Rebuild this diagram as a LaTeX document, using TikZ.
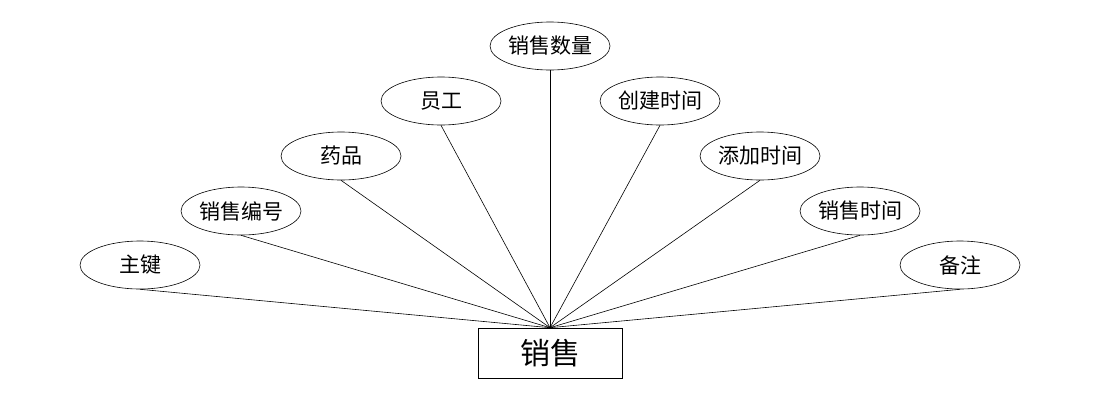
\documentclass[tikz,border=0pt]{standalone}
\usepackage{fontspec}
\newfontfamily\cjk{Noto Sans CJK SC}
\usetikzlibrary{shapes.geometric}

\begin{document}
\begin{tikzpicture}[x=1pt, y=-1pt, line width=0.6pt,
	attr/.style={draw, ellipse, minimum width=120pt, minimum height=48pt, inner sep=0pt, font=\cjk\fontsize{21}{24}\selectfont},
	entity/.style={draw, rectangle, minimum width=144pt, minimum height=50pt, inner sep=0pt, font=\cjk\fontsize{30}{34}\selectfont}]
	\useasboundingbox (0,0) rectangle (1100,408);
	% entity
	\node[entity] (sale) at (550,353) {销售};
	% attributes
	\node[attr] (a1) at (140,265) {主键};
	\node[attr] (a2) at (241,211) {销售编号};
	\node[attr] (a3) at (341,156) {药品};
	\node[attr] (a4) at (441,101) {员工};
	\node[attr] (a5) at (550,46) {销售数量};
	\node[attr] (a6) at (660,101) {创建时间};
	\node[attr] (a7) at (760,156) {添加时间};
	\node[attr] (a8) at (860,211) {销售时间};
	\node[attr] (a9) at (960,265) {备注};
	% links
	\foreach \a in {a1,a2,a3,a4,a5,a6,a7,a8,a9}
		\draw (\a.south) -- (sale.north);
\end{tikzpicture}
\end{document}
